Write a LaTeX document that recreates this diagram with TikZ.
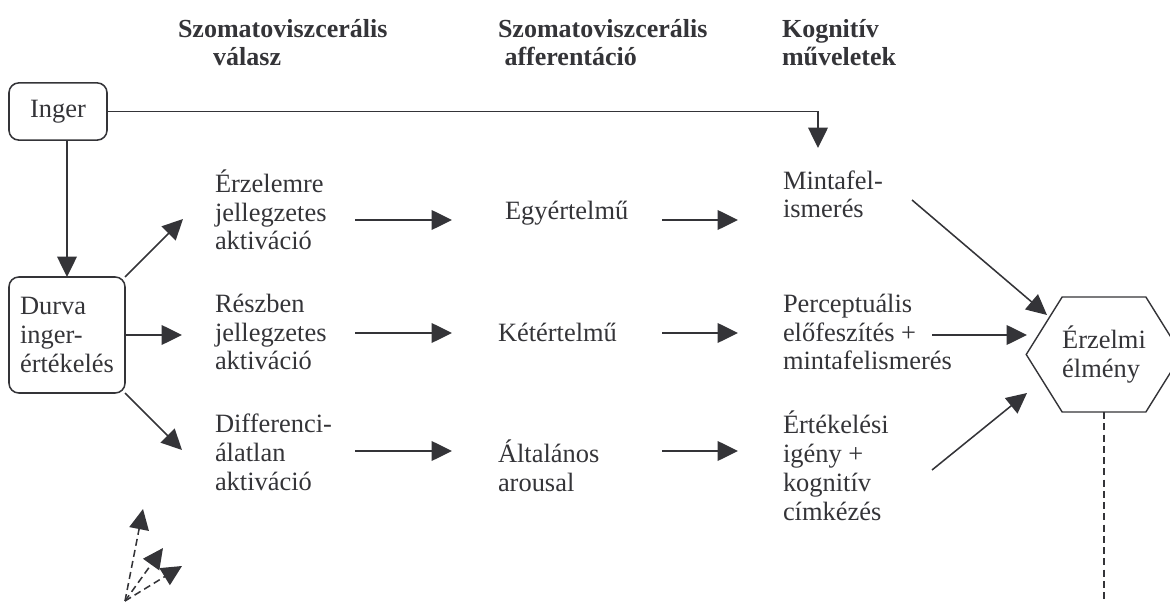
\documentclass[tikz,border=0pt]{standalone}
\usepackage{fontspec}
\setmainfont{Liberation Serif}
\usepackage{tikz}
\usepackage{xcolor}
\usetikzlibrary{arrows.meta, shapes.symbols}
\definecolor{diagink}{RGB}{52, 52, 56}
\tikzset{
    txtnode/.style={anchor=base west, inner sep=0pt, outer sep=0pt, align=left, text=diagink, font=\fontsize{18.8}{20.6}\selectfont},
    headnode/.style={txtnode, font=\fontsize{18.5}{20.6}\selectfont\bfseries},
    boxnode/.style={draw=diagink, line width=1.1pt, rounded corners=7pt, outer sep=0pt, align=left, text=diagink, font=\fontsize{18.8}{20.6}\selectfont},
    hexnode/.style={signal, signal to=west and east, signal pointer angle=116, inner xsep=0pt, draw=diagink, line width=1pt, outer sep=0pt, align=left, text=diagink, font=\fontsize{18.8}{20.6}\selectfont},
    arr/.style={-{Triangle[length=14.5pt, width=14pt]}, draw=diagink, line width=1.1pt},
    dasharr/.style={arr, dash pattern=on 5pt off 3pt},
    dashln/.style={draw=diagink, line width=1pt, dash pattern=on 5pt off 3pt}
}

\begin{document}
\begin{tikzpicture}[x=0.025cm, y=-0.025cm]
    \useasboundingbox (0,0) rectangle (1170,602);
    % column headings (placed at the last baseline)
    \node[headnode] (h1) at (178,66) {Szomatoviszcerális\\\hspace*{25pt}válasz};
    \node[headnode] (h2) at (498,66) {Szomatoviszcerális\\\ afferentáció};
    \node[headnode] (h3) at (782,66) {Kognitív\\műveletek};
    % boxes
    \node[boxnode, minimum width=2.45cm, minimum height=1.43cm] (inger) at (58,111.5) {Inger};
    \node[boxnode, minimum width=2.9cm, minimum height=2.9cm] (durva) at (67,335) {Durva\\inger-\\értékelés};
    \node[hexnode, minimum width=3.4cm, minimum height=2.875cm] (elmeny) at (1104,354.5) {Érzelmi\\élmény};
    % rows
    \node[txtnode] (a1) at (215,250) {Érzelemre\\jellegzetes\\aktiváció};
    \node[txtnode] (a2) at (215,370) {Részben\\jellegzetes\\aktiváció};
    \node[txtnode] (a3) at (215,490) {Differenci-\\álatlan\\aktiváció};
    \node[txtnode] (b1) at (505,220) {Egyértelmű};
    \node[txtnode] (b2) at (498,342) {Kétértelmű};
    \node[txtnode] (b3) at (498,491) {Általános\\arousal};
    \node[txtnode] (c1) at (783,218) {Mintafel-\\ismerés};
    \node[txtnode] (c2) at (783,370) {Perceptuális\\előfeszítés +\\mintafelismerés};
    \node[txtnode] (c3) at (783,520) {Értékelési\\igény +\\kognitív\\címkézés};

    % from the stimulus
    \coordinate (m0) at (818,148);
    \draw[arr] (inger.east) -| (m0);
    \draw[arr] (inger.south -| durva.north) -- (durva.north);
    \coordinate (t1) at (183,219);
    \coordinate (t2) at (182,335);
    \coordinate (t3) at (182,450);
    \draw[arr] (durva.north east) -- (t1);
    \draw[arr] (durva.east) -- (t2);
    \draw[arr] (durva.south east) -- (t3);

    % row arrows
    \foreach \y [count=\r] in {220,333,451} {
        \coordinate (u\r) at (355,\y);
        \coordinate (v\r) at (452,\y);
        \coordinate (w\r) at (662,\y);
        \coordinate (z\r) at (738,\y);
        \draw[arr] (u\r) -- (v\r);
        \draw[arr] (w\r) -- (z\r);
    }

    % into the experience
    \coordinate (k1) at (912,200);
    \coordinate (k1t) at (1047,315);
    \coordinate (k2) at (932,335);
    \coordinate (k2t) at (1027,335);
    \coordinate (k3) at (932,470);
    \coordinate (k3t) at (1027,393);
    \draw[arr] (k1) -- (k1t);
    \draw[arr] (k2) -- (k2t);
    \draw[arr] (k3) -- (k3t);
    \coordinate (foot) at (1104,602);
    \draw[dashln] (elmeny.south) -- (foot);

    % dashed feedback
    \coordinate (src) at (125,601);
    \coordinate (q1) at (143,509);
    \coordinate (q2) at (163,548);
    \coordinate (q3) at (182,566);
    \draw[dasharr] (src) -- (q1);
    \draw[dasharr] (src) -- (q2);
    \draw[dasharr] (src) -- (q3);
\end{tikzpicture}
\end{document}
